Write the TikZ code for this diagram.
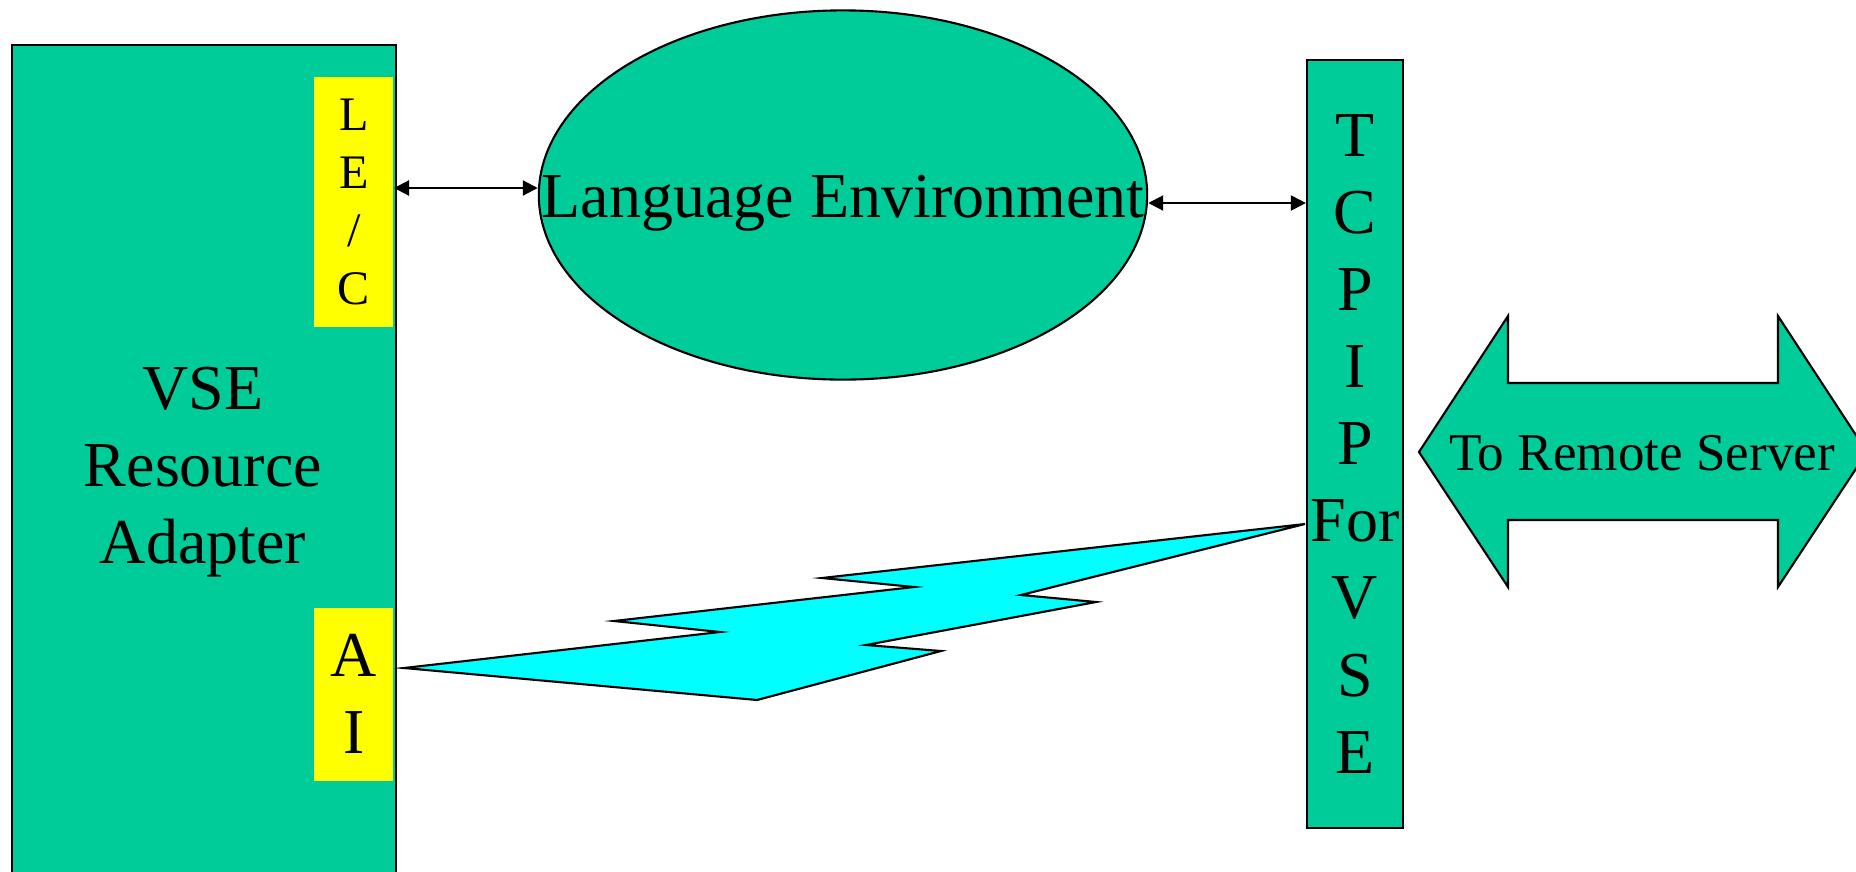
\documentclass[tikz,border=0pt]{standalone}
\usepackage{fontspec}
\setmainfont{Liberation Serif}
\usetikzlibrary{arrows.meta,shapes.geometric}
\definecolor{seagreen}{RGB}{0,204,153}
\definecolor{lecyellow}{RGB}{255,255,0}
\definecolor{boltcyan}{RGB}{0,255,255}
\tikzset{
	greenbox/.style={draw=black, fill=seagreen, line width=0.6pt},
	yellowbox/.style={fill=lecyellow, inner sep=0pt, minimum width=0.79cm, align=center},
	bigtext/.style={font=\fontsize{18.2}{21.9}\selectfont, align=center, inner sep=0pt},
	link/.style={line width=0.6pt, {Triangle[length=0.15cm,width=0.15cm]}-{Triangle[length=0.15cm,width=0.15cm]}},
}

\begin{document}
\begin{tikzpicture}[x=0.01cm, y=-0.01cm]
		%%%%% START %%%%%
		\useasboundingbox (0,0) rectangle (1856,872);
		
		% resource adapter
		\node[greenbox, anchor=north west, minimum width=3.84cm, minimum height=8.6cm, inner sep=0pt] (vse) at (11,44) {};
		\node[yellowbox, anchor=north east, minimum height=2.5cm, font=\fontsize{13.7}{16.5}\selectfont] (lec) at (394,76) {L\\E\\/\\C};
		\node[yellowbox, anchor=north east, minimum height=1.73cm, font=\fontsize{18.2}{21.9}\selectfont] (ai) at (394,607) {A\\I};
		\node[bigtext] (vsetext) at (203,472) {VSE\\Resource\\Adapter};
		
		% language environment
		\node[greenbox, ellipse, minimum width=6.08cm, minimum height=3.69cm, inner sep=0pt,
			label={[bigtext, yshift=-0.08cm]center:Language Environment}] (langenv) at (843,195) {};
		
		% tcp/ip stack
		\node[greenbox, bigtext, minimum width=0.96cm, minimum height=7.68cm] (tcpip) at (1355,444) {T\\C\\P\\I\\P\\For\\V\\S\\E};
		
		\draw[link] (lec.east |- 0,188) -- (langenv.west |- 0,188);
		\draw[link] (langenv.east |- 0,203) -- (tcpip.west |- 0,203);
		
		% lightning
		\draw[line width=0.6pt, fill=boltcyan] (404,668) -- (720,632) -- (614,621) -- (914,587) -- (822,578)
			-- (1305,524) -- (1021,595) -- (1096,602) -- (866,645) -- (941,651) -- (757,700) -- cycle;
		
		% remote server
		\draw[greenbox] (1419,452) -- (1508,316) -- (1508,383) -- (1778,383) -- (1778,316) -- (1867,452)
			-- (1778,587) -- (1778,520) -- (1508,520) -- (1508,587) -- cycle;
		\node[font=\fontsize{15.1}{18}\selectfont, inner sep=0pt] (remote) at (1642,453) {To Remote Server};
		
		%%%%% END %%%%%
\end{tikzpicture}
\end{document}
